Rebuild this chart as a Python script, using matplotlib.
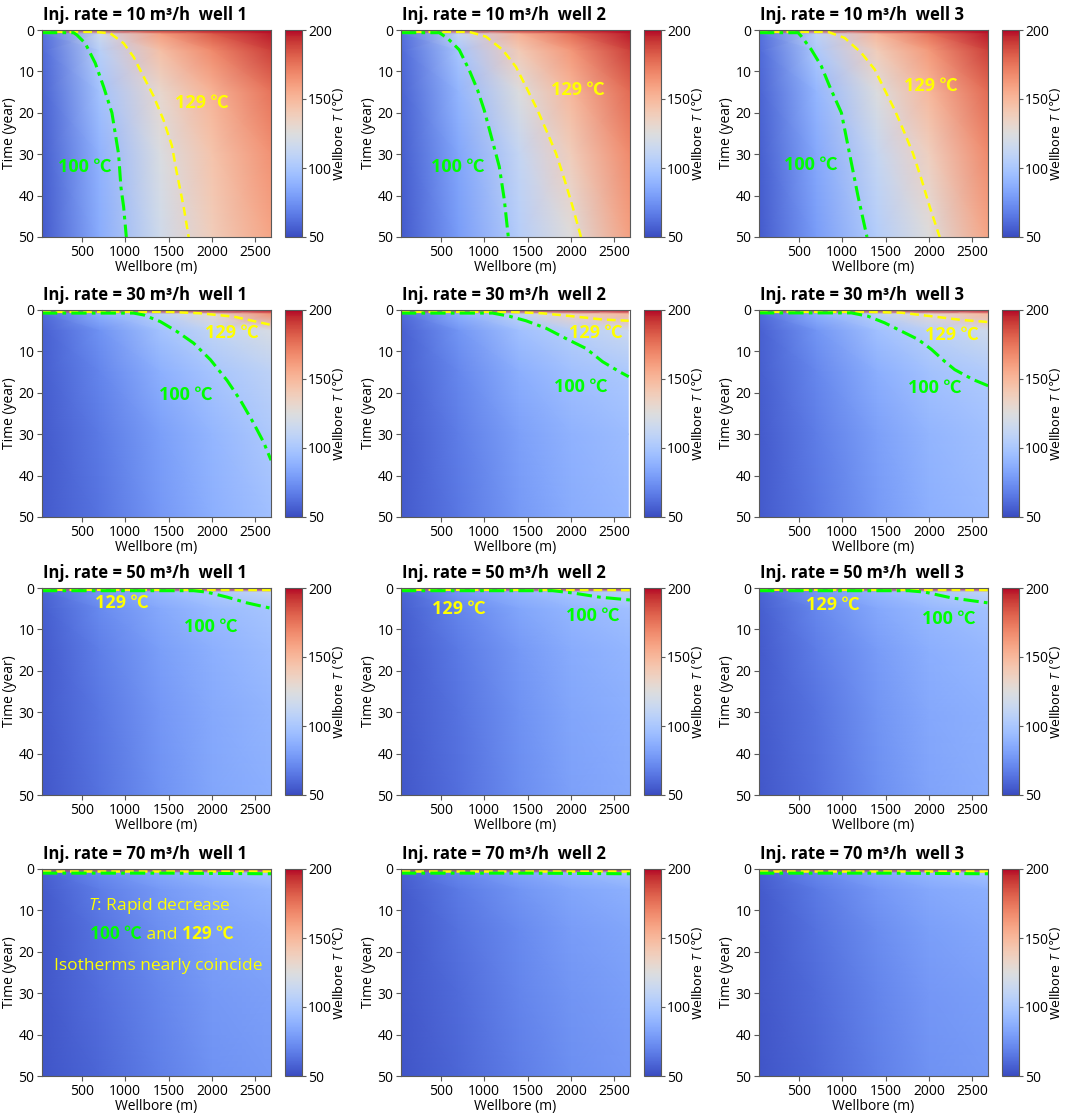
import matplotlib.pyplot as plt
import numpy as np

plt.rcParams['font.family'] = ['Open Sans', 'Noto Sans CJK SC']
plt.rcParams['mathtext.fontset'] = 'custom'
plt.rcParams['mathtext.rm'] = 'Open Sans'
plt.rcParams['mathtext.it'] = 'Open Sans:italic'

rates = [10, 30, 50, 70]
wells = [1, 2, 3]

# grid the temperatures were read on
times = [0, 1, 5, 15, 30, 50]
depth = [40, 700, 1400, 2000, 2680]
depth_r30_w2 = [40, 700, 1400, 2000, 2660]   # last column blank in that panel

# wellbore T (degC), rows = times, cols = depth
t_r10_w1 = [[185, 190, 195, 198, 200], [62, 116, 160, 182, 197], [60, 106, 146, 168, 190],
            [58, 97, 131, 152, 175], [56, 89, 123, 144, 165], [55, 86, 117, 138, 158]]
t_r10_w2 = [[185, 190, 195, 198, 200], [62, 111, 152, 176, 197], [60, 99, 140, 163, 190],
            [58, 90, 124, 150, 178], [56, 83, 112, 138, 168], [55, 79, 105, 126, 160]]
t_r10_w3 = [[185, 190, 195, 198, 200], [62, 109, 150, 175, 197], [60, 101, 139, 162, 190],
            [58, 91, 124, 150, 178], [56, 84, 113, 137, 168], [55, 79, 104, 125, 158]]
t_r30_w1 = [[185, 190, 195, 198, 200], [60, 88, 108, 129, 165], [57, 75, 97, 110, 122],
            [56, 70, 88, 99, 109], [55, 66, 80, 91, 102], [55, 64, 77, 87, 96]]
t_r30_w2 = [[185, 190, 195, 198, 200], [60, 88, 110, 135, 150], [57, 76, 96, 106, 115],
            [56, 71, 87, 96, 101], [55, 67, 81, 89, 94], [55, 65, 78, 86, 91]]
t_r30_w3 = [[185, 190, 195, 198, 200], [60, 88, 108, 130, 150], [57, 76, 96, 107, 117],
            [56, 71, 87, 97, 103], [55, 67, 81, 90, 96], [55, 65, 78, 87, 92]]
t_r50_w1 = [[185, 190, 195, 198, 200], [58, 78, 92, 101, 112], [56, 72, 85, 93, 99],
            [55, 68, 80, 88, 94], [55, 65, 77, 85, 90], [54, 63, 75, 83, 87]]
t_r50_w2 = [[185, 190, 195, 198, 200], [58, 77, 90, 99, 108], [56, 70, 83, 91, 96],
            [55, 66, 78, 86, 91], [55, 64, 75, 83, 87], [54, 62, 73, 81, 85]]
t_r50_w3 = [[185, 190, 195, 198, 200], [58, 77, 91, 100, 110], [56, 71, 84, 92, 97],
            [55, 67, 79, 87, 92], [55, 64, 76, 84, 88], [54, 62, 74, 82, 86]]
t_r70_w1 = [[185, 190, 195, 198, 200], [57, 72, 84, 92, 99], [55, 67, 78, 85, 90],
            [54, 64, 74, 81, 85], [54, 62, 71, 78, 81], [53, 59, 68, 75, 78]]
t_r70_w2 = [[185, 190, 195, 198, 200], [57, 71, 82, 90, 97], [55, 66, 76, 83, 88],
            [54, 63, 72, 79, 83], [54, 61, 70, 76, 80], [53, 59, 67, 74, 77]]
t_r70_w3 = [[185, 190, 195, 198, 200], [57, 71, 83, 91, 98], [55, 66, 77, 84, 88],
            [54, 63, 73, 80, 84], [54, 61, 70, 77, 80], [53, 59, 68, 75, 78]]

# isotherms (depth m, time yr)
iso100_r10_w1 = ([40, 404, 442, 538, 654, 750, 846, 923, 950, 981, 1012],
                 [0.65, 0.65, 1.2, 3.2, 8.0, 13.7, 20.0, 30.0, 38.0, 42.7, 50.0])
iso129_r10_w1 = ([40, 650, 827, 981, 1096, 1212, 1327, 1442, 1538, 1596, 1673, 1731],
                 [0.45, 0.45, 0.8, 3.2, 6.5, 11.3, 16.0, 21.8, 28.0, 34.7, 42.7, 50.0])
iso100_r10_w2 = ([40, 481, 577, 712, 827, 923, 1000, 1135, 1173, 1231, 1277],
                 [0.65, 0.65, 2.0, 4.8, 9.7, 14.5, 19.4, 30.0, 33.0, 41.0, 50.0])
iso129_r10_w2 = ([40, 827, 1019, 1212, 1365, 1481, 1615, 1731, 1827, 1923, 2019, 2115],
                 [0.45, 0.45, 1.6, 4.8, 8.9, 13.7, 19.4, 25.0, 29.8, 36.0, 42.7, 50.0])
iso100_r10_w3 = ([40, 490, 527, 642, 758, 854, 990, 1085, 1180, 1285],
                 [0.65, 0.65, 1.5, 4.7, 8.7, 13.6, 20.0, 30.0, 40.0, 50.0])
iso129_r10_w3 = ([40, 835, 1027, 1219, 1373, 1488, 1604, 1719, 1815, 1912, 2008, 2123],
                 [0.45, 0.45, 1.9, 5.5, 9.5, 14.4, 19.3, 24.9, 29.8, 36.0, 42.7, 50.0])
iso100_r30_w1 = ([40, 1096, 1212, 1404, 1596, 1788, 1981, 2173, 2327, 2481, 2596, 2681],
                 [0.75, 0.75, 1.2, 2.8, 5.2, 8.0, 12.0, 17.0, 21.8, 27.4, 32.0, 36.3])
iso129_r30_w1 = ([40, 1500, 1865, 2250, 2681], [0.45, 0.45, 0.8, 1.6, 3.6])
iso100_r30_w2 = ([40, 1096, 1288, 1481, 1712, 1942, 2173, 2365, 2558, 2665],
                 [0.75, 0.75, 1.5, 2.6, 4.4, 6.9, 9.3, 12.5, 14.9, 16.1])
iso129_r30_w2 = ([40, 1288, 1673, 2058, 2365, 2665], [0.45, 0.45, 0.8, 1.6, 2.3, 2.6])
iso100_r30_w3 = ([40, 1104, 1296, 1488, 1719, 1873, 2027, 2180, 2296, 2508, 2681],
                 [0.7, 0.7, 1.5, 3.1, 5.5, 7.1, 9.5, 12.4, 14.4, 16.8, 18.3])
iso129_r30_w3 = ([40, 1296, 1680, 2065, 2373, 2681], [0.45, 0.45, 0.65, 1.6, 2.4, 2.9])
iso100_r50_w1 = ([40, 1788, 1942, 2173, 2404, 2681], [0.65, 0.65, 1.0, 2.2, 3.6, 4.9])
iso129_r50_w1 = ([40, 2681], [0.4, 0.5])
iso100_r50_w2 = ([40, 1788, 2019, 2327, 2681], [0.65, 0.65, 1.2, 2.2, 2.9])
iso129_r50_w2 = ([40, 2681], [0.4, 0.5])
iso100_r50_w3 = ([40, 1762, 1954, 2262, 2681], [0.65, 0.65, 1.0, 2.4, 3.6])
iso129_r50_w3 = ([40, 2681], [0.4, 0.5])
iso100_r70 = ([40, 1500, 2681], [1.0, 1.0, 1.15])
iso129_r70 = ([40, 2681], [0.4, 0.4])

# label centres (depth, time); None = no label
lab129 = [[(1885, 17.7), (2077, 14.4), (2019, 13.6)],
          [(2231, 5.6), (2288, 5.5), (2258, 5.9)],
          [(962, 3.6), (712, 5.1), (896, 4.0)],
          [None, None, None]]
lab100 = [[(538, 33.0), (692, 33.0), (642, 32.6)],
          [(1692, 20.6), (2115, 18.5), (2065, 18.9)],
          [(1988, 9.3), (2250, 6.7), (2223, 7.5)],
          [None, None, None]]

fields = [[t_r10_w1, t_r10_w2, t_r10_w3],
          [t_r30_w1, t_r30_w2, t_r30_w3],
          [t_r50_w1, t_r50_w2, t_r50_w3],
          [t_r70_w1, t_r70_w2, t_r70_w3]]
iso100 = [[iso100_r10_w1, iso100_r10_w2, iso100_r10_w3],
          [iso100_r30_w1, iso100_r30_w2, iso100_r30_w3],
          [iso100_r50_w1, iso100_r50_w2, iso100_r50_w3],
          [iso100_r70, iso100_r70, iso100_r70]]
iso129 = [[iso129_r10_w1, iso129_r10_w2, iso129_r10_w3],
          [iso129_r30_w1, iso129_r30_w2, iso129_r30_w3],
          [iso129_r50_w1, iso129_r50_w2, iso129_r50_w3],
          [iso129_r70, iso129_r70, iso129_r70]]

W, H = 1065, 1116
fig = plt.figure(figsize=(W / 100, H / 100), dpi=100)


def box(left, top, w, h):
    return [left / W, 1 - (top + h) / H, w / W, h / H]


col_left = [42, 401, 759]
row_top = [30, 310, 588, 869]
frame = '0.35'

for i, rate in enumerate(rates):
    for j, well in enumerate(wells):
        ax = fig.add_axes(box(col_left[j], row_top[i], 229, 207))
        cax = fig.add_axes(box(col_left[j] + 243, row_top[i], 17, 207))

        xs = depth_r30_w2 if (rate, well) == (30, 2) else depth
        X, Y = np.meshgrid(xs, times)
        mesh = ax.pcolormesh(X, Y, np.array(fields[i][j], float), shading='gouraud',
                             cmap='coolwarm', vmin=50, vmax=200)

        ax.plot(*iso129[i][j], color='yellow', ls=(0, (3.5, 2)), lw=1.8)
        ax.plot(*iso100[i][j], color='lime', ls=(0, (5, 1.7, 1.2, 1.7)), lw=2.2)

        ax.set_xlim(40, 2680)
        ax.set_ylim(50, 0)
        ax.set_xticks([500, 1000, 1500, 2000, 2500])
        ax.set_yticks([0, 10, 20, 30, 40, 50])
        ax.tick_params(labelsize=10, color=frame, pad=2)
        for s in ax.spines.values():
            s.set_color(frame)
        ax.set_xlabel('Wellbore (m)', fontsize=10, labelpad=0)
        ax.set_ylabel('Time (year)', fontsize=10)
        ax.yaxis.set_label_coords(-0.108, 0.5)
        ax.set_title(f'Inj. rate = {rate} m³/h  well {well}', fontsize=12,
                     fontweight='bold', x=0.45, pad=7)

        if lab129[i][j] is not None:
            ax.text(*lab129[i][j], '129 ℃', color='yellow', fontsize=13,
                    fontweight='bold', ha='center', va='center')
            ax.text(*lab100[i][j], '100 ℃', color='lime', fontsize=13,
                    fontweight='bold', ha='center', va='center')

        cb = fig.colorbar(mesh, cax=cax, ticks=[50, 100, 150, 200])
        cb.outline.set_edgecolor(frame)
        cax.tick_params(labelsize=10, color=frame, length=3, pad=1.5)
        cb.set_label('Wellbore $T$ (℃)', fontsize=9, family='DejaVu Sans')
        cax.yaxis.set_label_coords(2.72, 0.5)

        if (rate, well) == (70, 1):
            ax.text(1390, 8.9, '$T$: Rapid decrease', color='yellow', fontsize=12.5,
                    ha='center', va='center')
            mid = ax.text(1420, 16.0, ' and ', color='yellow', fontsize=12.5,
                          ha='center', va='center')
            ax.annotate('100 ℃', xy=(0, 0), xycoords=mid, color='lime', fontsize=12.5,
                        fontweight='bold', ha='right', va='bottom')
            ax.annotate('129 ℃', xy=(1, 0), xycoords=mid, color='yellow', fontsize=12.5,
                        fontweight='bold', ha='left', va='bottom')
            ax.text(1380, 23.4, 'Isotherms nearly coincide', color='yellow', fontsize=12.5,
                    ha='center', va='center')

fig.savefig('out.png', dpi=100)
